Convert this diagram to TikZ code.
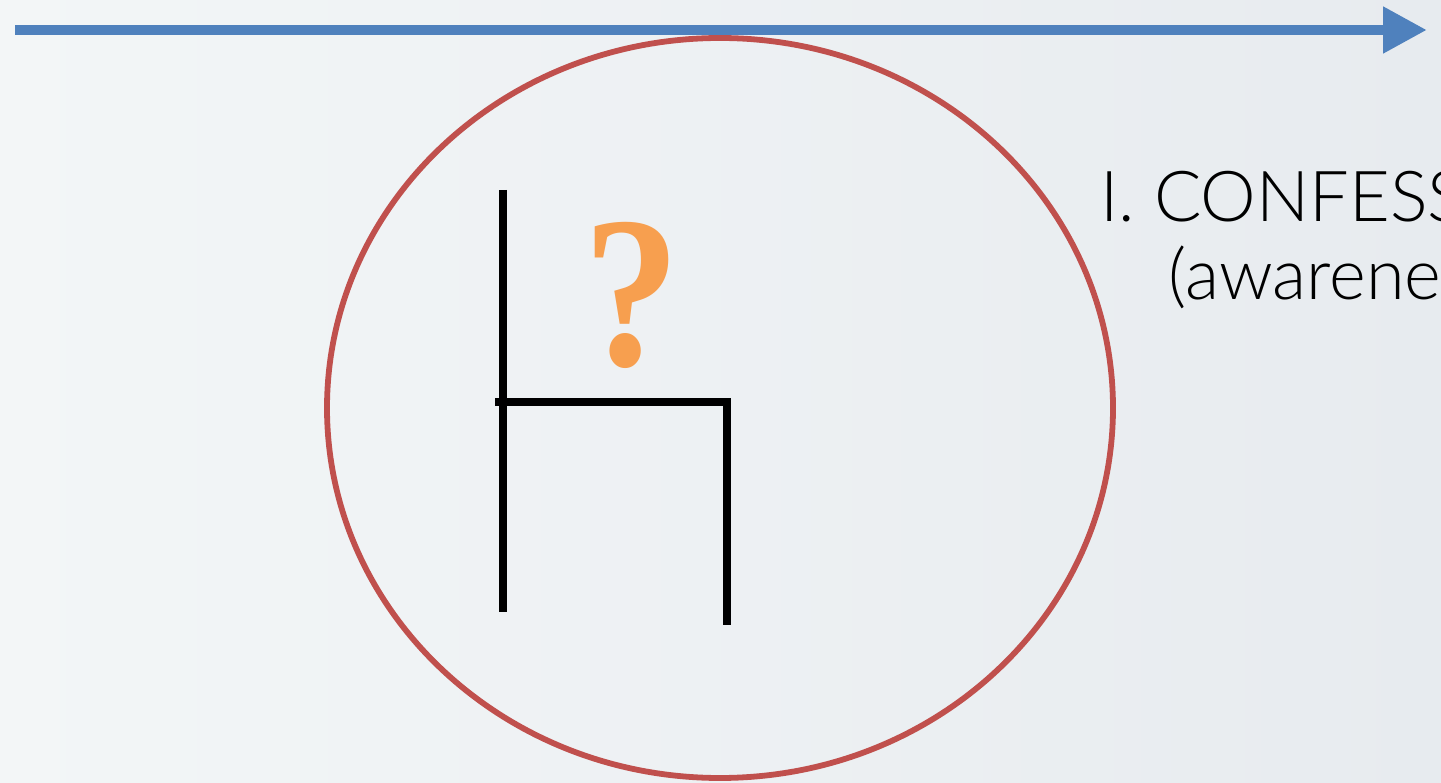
\documentclass[tikz,border=0pt]{standalone}
\usepackage{fontspec}
\usepackage{tikz}
\usetikzlibrary{calc}
\usetikzlibrary{positioning}
\usetikzlibrary{arrows.meta}
\newfontfamily\stagefont{Lato}[UprightFont=* Light]
\newfontfamily\askfont{Liberation Serif}
\definecolor{timeblue}{HTML}{4F81BD}
\definecolor{ringred}{HTML}{C0504D}
\definecolor{askorange}{HTML}{F79F4F}
\definecolor{bgleft}{HTML}{F3F6F7}
\definecolor{bgright}{HTML}{E7EBEF}
\tikzset{
  chairline/.style={line width=4.5pt, black},
  stagetext/.style={font=\stagefont\fontsize{40}{44}\selectfont, anchor=base west, inner sep=0pt}
}

\begin{document}
\begin{tikzpicture}[x=0.02cm, y=-0.02cm]
                \useasboundingbox (0,0) rectangle (1441,783);
                \clip (0,0) rectangle (1441,783);
                \shade[left color=bgleft, right color=bgright] (0,0) rectangle (1441,783);
                % the ring
                \draw[ringred, line width=3.3pt] (720,408) ellipse [x radius=393, y radius=370];
                % time line
                \draw[timeblue, line width=6.2pt, -{Triangle[length=0.88cm, width=0.88cm]}] (15,30) -- (1427,30);
                % the chair
                \draw[chairline] (503,190) -- (503,612);
                \draw[chairline, line join=miter] (495,402) -- (727,402) -- (727,625);
                \node[askorange, font=\askfont\bfseries\fontsize{108}{110}\selectfont, inner sep=0pt, xscale=1.02, yscale=1.14] (ask) at (632,295) {?};
                % label
                \node[stagetext] (stage) at (1100,222) {I. CONFESSION};
                \node[stagetext] (aware) at (1168,300) {(awareness)};
            \end{tikzpicture}
\end{document}
